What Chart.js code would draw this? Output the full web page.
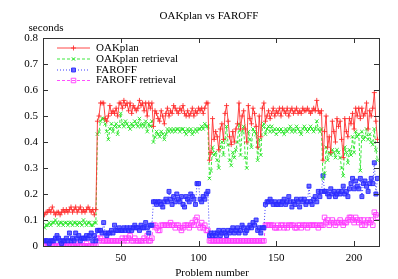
<!DOCTYPE html>
<html>
<head>
<meta charset="utf-8">
<script src="https://cdn.jsdelivr.net/npm/chart.js@4"></script>
<style>
  body { margin: 0; background: #fff; }
  canvas { display: block; }
</style>
</head>
<body>
<canvas id="chart" width="398" height="279"></canvas>
<script>
// values, problems 1..215
const oakplan = [
  0.12,0.13,0.13,0.14,0.13,0.15,0.13,0.12,0.13,0.13,0.12,0.13,0.14,0.13,0.14,0.13,0.14,0.15,0.13,0.14,0.15,0.13,0.14,0.15,0.13,0.14,0.13,0.14,0.15,0.14,0.13,0.14,0.12,0.14,
  0.48,0.50,0.55,0.55,0.55,0.49,0.48,0.50,0.54,0.51,0.52,0.51,0.53,0.50,0.55,0.55,0.53,0.56,0.54,0.55,0.52,0.55,0.51,0.54,0.53,0.52,0.53,0.56,0.54,0.55,0.52,0.55,0.50,0.55,0.53,0.55,
  0.46,0.52,0.51,0.49,0.48,0.52,0.50,0.47,0.51,0.53,0.50,0.52,0.51,0.54,0.53,0.52,0.51,0.53,0.52,0.54,0.51,0.50,0.52,0.50,0.51,0.53,0.50,0.52,0.51,0.53,0.52,0.53,0.51,0.53,0.55,0.55,
  0.33,0.36,0.49,0.41,0.44,0.42,0.37,0.45,0.47,0.41,0.51,0.54,0.48,0.42,0.39,0.44,0.40,0.45,0.47,0.55,0.45,0.50,0.52,0.45,0.40,0.54,0.49,0.47,0.53,0.51,0.46,0.38,0.50,0.42,0.53,0.55,
  0.48,0.50,0.52,0.49,0.51,0.53,0.50,0.52,0.51,0.53,0.50,0.53,0.52,0.51,0.53,0.50,0.52,0.53,0.51,0.52,0.53,0.51,0.52,0.51,0.53,0.52,0.52,0.53,0.52,0.51,0.52,0.53,0.52,0.56,0.52,0.51,
  0.52,0.33,0.44,0.50,0.38,0.42,0.36,0.48,0.44,0.40,0.49,0.46,0.48,0.41,0.34,0.49,0.44,0.42,0.49,0.47,0.51,0.45,0.53,0.50,0.53,0.49,0.53,0.50,0.51,0.55,0.45,0.52,0.50,0.53,0.59,0.48,0.41
];
const oakplanRetrieval = [
  0.07,0.08,0.08,0.09,0.08,0.09,0.09,0.10,0.09,0.08,0.09,0.09,0.08,0.09,0.09,0.08,0.09,0.09,0.08,0.09,0.09,0.08,0.09,0.09,0.08,0.10,0.09,0.08,0.09,0.09,0.08,0.08,0.09,0.09,
  0.43,0.44,0.48,0.49,0.49,0.47,0.44,0.41,0.45,0.47,0.44,0.46,0.47,0.43,0.46,0.51,0.47,0.46,0.48,0.47,0.46,0.45,0.47,0.46,0.48,0.47,0.46,0.49,0.46,0.47,0.46,0.48,0.44,0.47,0.46,0.48,
  0.40,0.42,0.44,0.43,0.42,0.44,0.43,0.41,0.43,0.45,0.44,0.45,0.44,0.45,0.44,0.45,0.45,0.44,0.45,0.45,0.44,0.43,0.45,0.44,0.45,0.43,0.44,0.45,0.44,0.45,0.45,0.46,0.45,0.47,0.46,0.46,
  0.26,0.29,0.38,0.35,0.36,0.33,0.30,0.38,0.40,0.35,0.41,0.46,0.39,0.33,0.31,0.36,0.34,0.37,0.40,0.47,0.35,0.44,0.46,0.34,0.30,0.44,0.41,0.38,0.45,0.44,0.43,0.33,0.41,0.35,0.46,0.47,
  0.43,0.45,0.46,0.44,0.46,0.44,0.45,0.43,0.45,0.44,0.45,0.44,0.43,0.45,0.44,0.45,0.46,0.44,0.45,0.44,0.46,0.45,0.44,0.43,0.45,0.46,0.45,0.44,0.45,0.46,0.45,0.44,0.45,0.48,0.45,0.44,
  0.45,0.26,0.28,0.38,0.33,0.36,0.35,0.37,0.36,0.34,0.37,0.36,0.34,0.30,0.27,0.38,0.36,0.32,0.37,0.35,0.42,0.36,0.44,0.42,0.43,0.29,0.44,0.41,0.42,0.45,0.41,0.43,0.40,0.39,0.45,0.37,0.33
];
const faroff = [
  0.02,0.02,0.02,0.01,0.02,0.02,0.02,0.03,0.04,0.03,0.02,0.01,0.02,0.02,0.03,0.02,0.05,0.02,0.03,0.02,0.05,0.03,0.04,0.02,0.03,0.03,0.03,0.04,0.03,0.04,0.05,0.02,0.04,0.02,
  0.06,0.06,0.06,0.05,0.09,0.05,0.04,0.05,0.05,0.06,0.05,0.08,0.06,0.06,0.07,0.06,0.06,0.07,0.06,0.07,0.06,0.07,0.06,0.07,0.08,0.07,0.07,0.06,0.08,0.07,0.07,0.09,0.07,0.05,0.08,0.08,
  0.17,0.17,0.16,0.17,0.17,0.16,0.15,0.17,0.18,0.17,0.21,0.18,0.16,0.19,0.17,0.20,0.18,0.17,0.19,0.16,0.15,0.19,0.18,0.17,0.20,0.19,0.18,0.16,0.24,0.24,0.18,0.17,0.19,0.18,0.20,0.21,
  0.04,0.05,0.04,0.05,0.04,0.05,0.06,0.04,0.05,0.06,0.05,0.04,0.06,0.05,0.06,0.07,0.05,0.06,0.07,0.05,0.06,0.08,0.07,0.05,0.06,0.07,0.08,0.07,0.09,0.08,0.10,0.06,0.07,0.05,0.07,0.07,
  0.16,0.17,0.17,0.18,0.17,0.16,0.17,0.16,0.16,0.17,0.16,0.17,0.18,0.16,0.17,0.19,0.17,0.15,0.17,0.16,0.18,0.17,0.15,0.18,0.17,0.18,0.16,0.17,0.23,0.17,0.16,0.18,0.19,0.17,0.21,0.19,
  0.21,0.27,0.21,0.21,0.20,0.19,0.22,0.20,0.21,0.19,0.20,0.21,0.20,0.21,0.23,0.20,0.21,0.19,0.22,0.24,0.26,0.22,0.25,0.23,0.22,0.26,0.19,0.24,0.25,0.23,0.21,0.24,0.26,0.24,0.32,0.20,0.26
];
const faroffRetrieval = [
  0,0,0,0,0,0,0,0,0,0,0,0,0,0,0,0,0,0,0,0,0.01,0,0,0,0,0,0,0.01,0,0,0,0,0,0,
  0.03,0.02,0.03,0.02,0.02,0.02,0.02,0.02,0.02,0.02,0.02,0.02,0.02,0.02,0.02,0.02,0.03,0.02,0.03,0.02,0.03,0.04,0.02,0.02,0.03,0.02,0.02,0.02,0.02,0.02,0.03,0.02,0.04,0.02,0.02,0.03,
  0.08,0.08,0.07,0.06,0.06,0.08,0.08,0.08,0.08,0.08,0.08,0.09,0.08,0.08,0.07,0.08,0.08,0.07,0.06,0.07,0.08,0.08,0.08,0.07,0.08,0.09,0.08,0.10,0.11,0.08,0.07,0.09,0.07,0.08,0.06,0.06,
  0.02,0.02,0.02,0.02,0.02,0.02,0.02,0.02,0.02,0.02,0.02,0.02,0.02,0.02,0.02,0.02,0.02,0.02,0.02,0.02,0.02,0.02,0.02,0.02,0.02,0.02,0.02,0.02,0.02,0.02,0.02,0.02,0.02,0.02,0.02,0.02,
  0.08,0.08,0.08,0.08,0.08,0.08,0.07,0.07,0.08,0.07,0.08,0.08,0.07,0.08,0.07,0.08,0.08,0.08,0.08,0.07,0.07,0.08,0.08,0.07,0.08,0.08,0.08,0.07,0.08,0.08,0.08,0.08,0.08,0.08,0.07,0.08,
  0.08,0.08,0.11,0.09,0.10,0.08,0.09,0.10,0.09,0.08,0.09,0.09,0.10,0.09,0.08,0.09,0.09,0.10,0.11,0.11,0.10,0.09,0.11,0.10,0.09,0.10,0.08,0.10,0.08,0.09,0.10,0.09,0.10,0.08,0.13,0.12,0.11
];
const problems = oakplan.map((v, i) => i + 1);
const yTicks = [0, 0.1, 0.2, 0.3, 0.4, 0.5, 0.6, 0.7, 0.8];
const xTicks = [50, 100, 150, 200];

const FONT = 'Liberation Serif';

function series(label, values, color, dash, style, radius, fill) {
  return {
    label: label,
    data: values,
    borderColor: color,
    borderWidth: 1,
    borderDash: dash,
    pointStyle: style,
    pointRadius: radius,
    pointBorderColor: color,
    pointBorderWidth: 1,
    pointBackgroundColor: fill,
    fill: false,
    tension: 0
  };
}

// gnuplot style box, inward ticks, labels and key
const gnuplotFrame = {
  id: 'gnuplotFrame',
  afterDraw(chart) {
    const ctx = chart.ctx;
    const a = chart.chartArea;
    const xs = chart.scales.x, ys = chart.scales.y;
    ctx.save();
    ctx.strokeStyle = '#333';
    ctx.lineWidth = 1;
    ctx.setLineDash([]);
    ctx.strokeRect(Math.round(a.left) + 0.5, Math.round(a.top) + 0.5,
      Math.round(a.right - a.left), Math.round(a.bottom - a.top));
    ctx.beginPath();
    yTicks.forEach(v => {
      const py = Math.round(ys.getPixelForValue(v)) + 0.5;
      ctx.moveTo(a.left, py); ctx.lineTo(a.left + 5, py);
      ctx.moveTo(a.right, py); ctx.lineTo(a.right - 5, py);
    });
    xTicks.forEach(v => {
      const px = Math.round(xs.getPixelForValue(v)) + 0.5;
      ctx.moveTo(px, a.bottom); ctx.lineTo(px, a.bottom - 5);
      ctx.moveTo(px, a.top); ctx.lineTo(px, a.top + 5);
    });
    ctx.stroke();

    ctx.fillStyle = '#000';
    ctx.font = '11px "' + FONT + '"';
    ctx.textBaseline = 'middle';
    ctx.textAlign = 'center';
    ctx.fillText('OAKplan vs FAROFF', 209, 16);
    ctx.fillText('Problem number', 212, 273);
    ctx.fillText('seconds', 46, 28);

    // key
    const rows = [48, 59, 70, 80.5];
    chart.data.datasets.forEach((ds, i) => {
      const y = rows[i];
      ctx.strokeStyle = ds.borderColor;
      ctx.lineWidth = 1;
      ctx.setLineDash(ds.borderDash || []);
      ctx.beginPath();
      ctx.moveTo(57, y); ctx.lineTo(90, y);
      ctx.stroke();
      ctx.setLineDash([]);
      ctx.fillStyle = ds.pointBackgroundColor;
      Chart.helpers.drawPoint(ctx, {
        pointStyle: ds.pointStyle, radius: ds.pointRadius, borderWidth: 1, rotation: 0
      }, 73.5, y);
      ctx.fillStyle = '#000';
      ctx.textAlign = 'left';
      ctx.fillText(ds.label, 96, y);
    });
    ctx.restore();
  }
};

new Chart(document.getElementById('chart').getContext('2d'), {
  type: 'line',
  data: {
    labels: problems,
    datasets: [
      series('OAKplan', oakplan, 'rgba(255,40,40,0.85)', [], 'cross', 2.5, 'transparent'),
      series('OAKplan retrieval', oakplanRetrieval, 'rgba(40,230,40,0.9)', [3, 2], 'crossRot', 2.5, 'transparent'),
      series('FAROFF', faroff, 'rgba(40,40,255,0.9)', [1, 2], 'rect', 2.8, 'rgba(60,60,255,0.75)'),
      series('FAROFF retrieval', faroffRetrieval, 'rgba(255,60,255,0.9)', [3, 2], 'rect', 3.2, 'transparent')
    ]
  },
  options: {
    responsive: false,
    animation: false,
    layout: { padding: { left: 0, right: 19, top: 38, bottom: 0 } },
    plugins: {
      legend: { display: false },
      title: { display: false },
      tooltip: { enabled: false }
    },
    scales: {
      x: {
        type: 'linear',
        min: 0,
        max: 216,
        grid: { display: false, drawTicks: false, tickLength: 0 },
        border: { display: false },
        afterBuildTicks: s => { s.ticks = xTicks.map(v => ({ value: v })); },
        ticks: {
          autoSkip: false,
          padding: 6,
          maxRotation: 0,
          color: '#000',
          font: { family: FONT, size: 11 }
        },
        afterFit: s => { s.height = 33; }
      },
      y: {
        min: 0,
        max: 0.8,
        grid: { display: false, drawTicks: false, tickLength: 0 },
        border: { display: false },
        ticks: {
          stepSize: 0.1,
          padding: 5,
          color: '#000',
          font: { family: FONT, size: 11 },
          callback: v => String(Math.round(v * 10) / 10)
        },
        afterFit: s => { s.width = 43; }
      }
    }
  },
  plugins: [gnuplotFrame]
});
</script>
</body>
</html>
